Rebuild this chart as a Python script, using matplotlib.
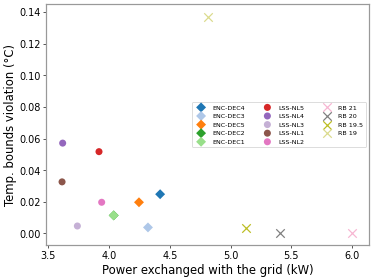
import matplotlib
matplotlib.use("Agg")
import matplotlib.pyplot as plt

# ── data ──
enc_labels = ["ENC-DEC4", "ENC-DEC3", "ENC-DEC5", "ENC-DEC2", "ENC-DEC1"]
enc_power = [4.42, 4.32, 4.246, 4.038, 4.038]
enc_viol = [0.0248, 0.0038, 0.0197, 0.0114, 0.0114]
enc_colors = ["#1f77b4", "#aec7e8", "#ff7f0e", "#2ca02c", "#98df8a"]

lss_labels = ["LSS-NL5", "LSS-NL4", "LSS-NL3", "LSS-NL1", "LSS-NL2"]
lss_power = [3.917, 3.618, 3.739, 3.613, 3.939]
lss_viol = [0.0517, 0.0571, 0.0047, 0.0326, 0.0197]
lss_colors = ["#d62728", "#9467bd", "#c5b0d5", "#8c564b", "#e377c2"]

rb_labels = ["RB 21", "RB 20", "RB 19.5", "RB 19"]
rb_power = [6.0, 5.406, 5.128, 4.811]
rb_viol = [0.0, 0.0, 0.0034, 0.137]
rb_colors = ["#f7b6d2", "#7f7f7f", "#bcbd22", "#dbdb8d"]

fig = plt.figure(figsize=(6.4, 4.8), dpi=58.44)
ax = fig.add_axes([0.124, 0.1254, 0.863, 0.8577])

for lab, x, y, c in zip(enc_labels, enc_power, enc_viol, enc_colors):
    ax.scatter(x, y, marker="D", s=75, color=c, label=lab, edgecolors="none")
for lab, x, y, c in zip(lss_labels, lss_power, lss_viol, lss_colors):
    ax.scatter(x, y, marker="o", s=75, color=c, label=lab, edgecolors="none")
for lab, x, y, c in zip(rb_labels, rb_power, rb_viol, rb_colors):
    ax.scatter(x, y, marker="x", s=110, color=c, label=lab, linewidths=1.5)

ax.set_xlim(3.484, 6.14)
ax.set_ylim(-0.0072, 0.1449)
ax.set_xticks([3.5, 4.0, 4.5, 5.0, 5.5, 6.0])
ax.set_yticks([0.0, 0.02, 0.04, 0.06, 0.08, 0.10, 0.12, 0.14])
ax.set_yticklabels(["%.2f" % v for v in ax.get_yticks()])
ax.tick_params(labelsize=12)
for sp in ax.spines.values():
    sp.set_color("#999999")
    sp.set_linewidth(1.5)

ax.set_xlabel("Power exchanged with the grid (kW)", fontsize=14.3)
ax.set_ylabel("Temp. bounds violation (°C)", fontsize=14.3, labelpad=3)
ax.legend(loc="center right", ncol=3, fontsize=7.8, columnspacing=2.5)

fig.savefig("out.png", dpi=58.44)
